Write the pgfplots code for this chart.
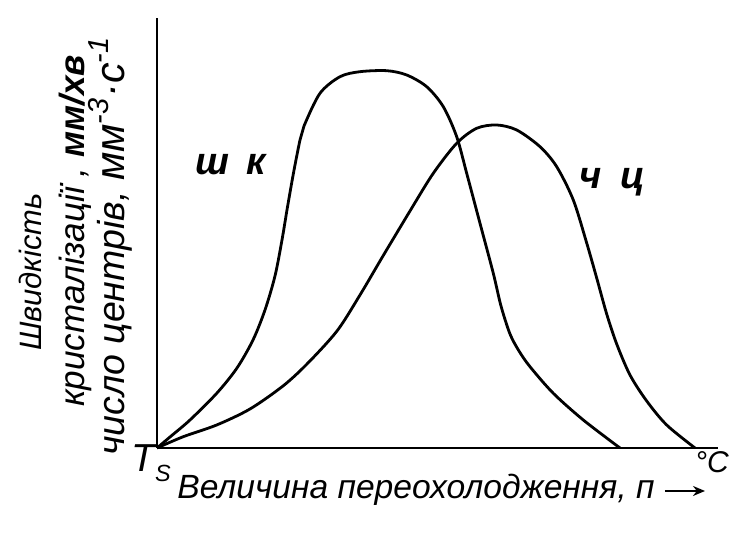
\documentclass[border=0pt]{standalone}
\usepackage{fontspec}
\setmainfont{Liberation Sans}
\usepackage{pgfplots}
\pgfplotsset{compat=1.18}
\usetikzlibrary{arrows.meta}
\begin{document}
\begin{tikzpicture}
\useasboundingbox (-78.5pt,-42.5pt) rectangle (297.5pt,224pt);
\begin{axis}[
  x=0.5pt, y=0.5pt,
  xmin=0, xmax=561, ymin=0, ymax=430,
  axis lines*=left,
  axis line style={line width=1.3pt},
  xtick=\empty, ytick=\empty,
  clip=false,
  font=\fontsize{15}{18}\selectfont\itshape,
]
\addplot[smooth, tension=0.5, line width=1.4pt] coordinates {
(0,0) (13,11) (33,28) (60,55) (80,80) (96,108) (108,138) (118,172) (125,208)
(130.5,241) (136.5,275) (143,308) (147,322)
(163,354.7) (183,371.3) (203,376.3) (229.7,377.3) (249.7,373) (269.7,361.3)
(286.3,341.3) (299.7,311.3) (309.7,274.7) (323,224.7) (336.3,174.7) (344,142)
(353,114) (362,97) (373,81.3) (396.3,54.7) (426.3,28) (463,0)};
\addplot[smooth, tension=0.5, line width=1.4pt] coordinates {
(0,0) (26.3,11.3) (59.7,23) (93,39) (126,62) (150,84) (180,117) (203,153)
(226,192) (253,237) (276.3,274.7) (299.7,304.7) (319.7,319.7)
(339.7,323) (359.7,318) (383,301.3) (399.7,281.3) (416.3,248) (429.7,205)
(439.7,170) (449.7,134) (459.7,104) (473,73) (489.7,47) (509.7,23) (538,0)};
\node[rotate=90,scale=1.03] at (axis cs:-127,176) {Швидкість};
\node[rotate=90,scale=1.17] at (axis cs:-82,217) {кристалізації , \textbf{мм/хв}};
\node[rotate=90,scale=1.25] at (axis cs:-47,202) {число центрів, {\fontsize{16.5}{20}\selectfont мм\textsuperscript{-3}·с\textsuperscript{-1}}};
\node[scale=1.12] at (axis cs:259,-42) {Величина переохолодження, п};
\draw[line width=1.3pt,-{Stealth[length=6pt,width=5pt]}] (axis cs:508,-43) -- (axis cs:548,-43);
\node[scale=1.3] at (axis cs:-6,-15) {T\raisebox{-0.5ex}{\small S}};
\node at (axis cs:555,-14) {°С};
\node[scale=1.27,font=\fontsize{15}{18}\selectfont\bfseries\itshape] at (axis cs:74,283) {ш\hspace{0.45em}к};
\node[scale=1.27,font=\fontsize{15}{18}\selectfont\bfseries\itshape] at (axis cs:455,266) {ч\hspace{0.5em}ц};
\end{axis}
\end{tikzpicture}
\end{document}
